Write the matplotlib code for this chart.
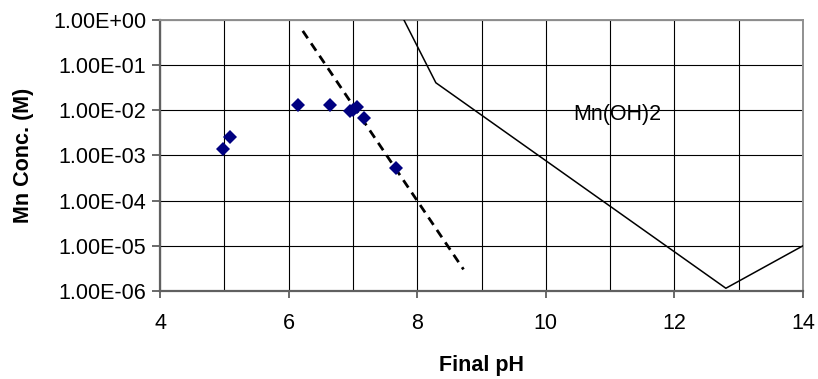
import numpy as np
import matplotlib
matplotlib.use("Agg")
import matplotlib.pyplot as plt
from matplotlib.ticker import MultipleLocator, FixedLocator

plt.rcParams['font.family'] = ['Liberation Sans', 'DejaVu Sans']

# measured Mn concentration vs final pH
ph_meas = [4.98, 5.09, 6.14, 6.64, 6.96, 7.00, 7.07, 7.18, 7.67]
mn_meas = [1.4e-3, 2.5e-3, 1.27e-2, 1.27e-2, 9.3e-3, 9.8e-3, 1.18e-2, 6.8e-3, 5.1e-4]

# dashed trend line
ph_trend = [6.22, 8.72]
mn_trend = [0.56, 3.0e-6]

# Mn(OH)2 solubility curve
ph_sol = [7.79, 8.29, 12.80, 14.0]
mn_sol = [1.0, 4.0e-2, 1.15e-6, 1.0e-5]

fs = 15.5

fig = plt.figure(figsize=(8.18, 3.79), dpi=100)
ax = fig.add_axes([0.1956, 0.2322, 0.9817 - 0.1956, 0.9485 - 0.2322])

ax.plot(ph_sol, mn_sol, color='black', lw=1.1, zorder=3)
ax.plot(ph_trend, mn_trend, color='black', lw=2.0, linestyle=(0, (3.2, 2.2)), zorder=3)
ax.plot(ph_meas, mn_meas, linestyle='none', marker='D', ms=7.2,
        color='#000080', markeredgewidth=0, zorder=4)

ax.text(10.42, 7.8e-3, 'Mn(OH)2', fontsize=fs, va='center', ha='left')

ax.set_yscale('log')
ax.set_xlim(4, 14)
ax.set_ylim(1e-6, 1)
ax.xaxis.set_major_locator(MultipleLocator(2))
ax.xaxis.set_minor_locator(FixedLocator([5, 7, 9, 11, 13]))
ax.yaxis.set_major_locator(FixedLocator([10.0 ** k for k in range(-6, 1)]))
ax.yaxis.set_minor_locator(FixedLocator([]))
ax.yaxis.set_major_formatter(plt.FuncFormatter(lambda v, p: '%.2E' % v))

ax.grid(True, which='both', axis='x', color='black', lw=0.8)
ax.grid(True, which='major', axis='y', color='black', lw=0.8)
ax.set_axisbelow(True)

ax.tick_params(axis='x', which='major', direction='out', length=5, width=1.2,
               color='#505050', labelsize=fs, pad=11)
ax.tick_params(axis='x', which='minor', length=0)
ax.tick_params(axis='y', which='major', direction='out', length=6, width=1.2,
               color='#505050', labelsize=fs, pad=4)

for side in ['left', 'bottom']:
    ax.spines[side].set_color('#606060')
    ax.spines[side].set_linewidth(1.6)
for side in ['top', 'right']:
    ax.spines[side].set_color('#909090')
    ax.spines[side].set_linewidth(1.4)

ax.set_xlabel('Final pH', fontsize=fs, fontweight='bold', labelpad=15)
ax.set_ylabel('Mn Conc. (M)', fontsize=fs, fontweight='bold', labelpad=14)

fig.savefig('out.png', dpi=100)
